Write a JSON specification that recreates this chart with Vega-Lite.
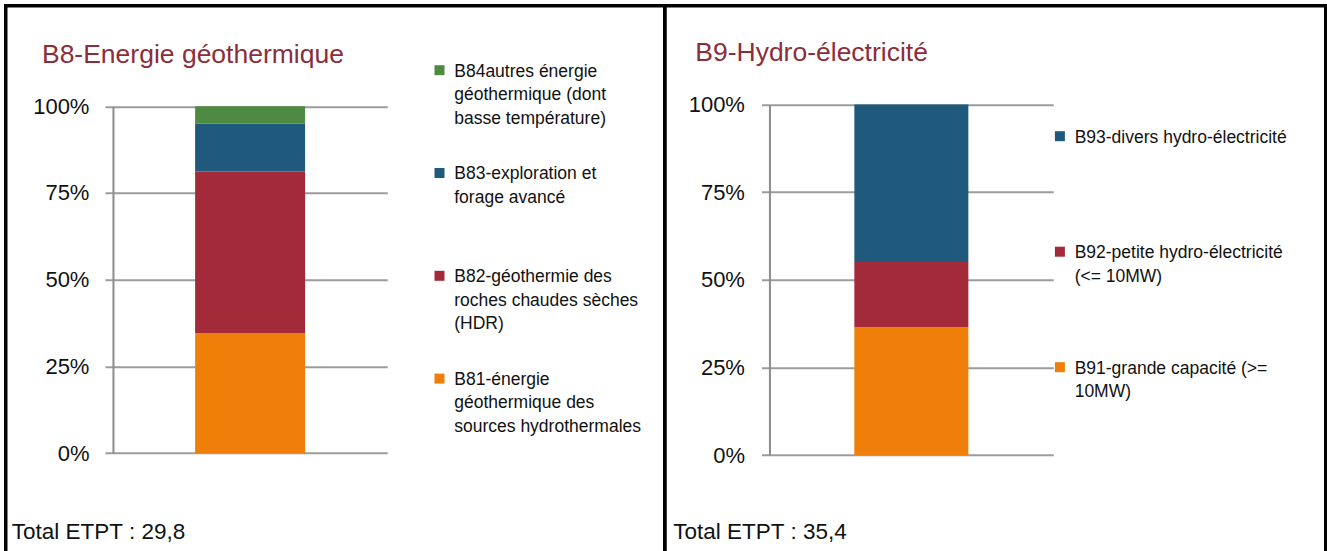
{
  "$schema": "https://vega.github.io/schema/vega-lite/v6.json",
  "padding": {"left": 3.75, "top": 3.75, "right": -1, "bottom": -5},
  "background": "white",
  "spacing": 0,
  "bounds": "flush",
  "resolve": {"scale": {"color": "independent"}, "legend": {"color": "independent"}},
  "config": {
    "view": {"stroke": "black", "strokeWidth": 3.5},
    "font": "Liberation Sans, Arial, sans-serif",
    "style": {"guide-label": {"lineHeight": 23.6}},
    "title": {"fontWeight": "normal", "color": "#8B2E3A", "fontSize": 26.5, "anchor": "start", "frame": "group", "baseline": "alphabetic"},
    "axisY": {
      "grid": true, "gridColor": "#9c9c9c", "gridWidth": 2,
      "domainColor": "#8c8c8c", "domainWidth": 2,
      "tickColor": "#9c9c9c", "tickWidth": 2, "tickSize": 8,
      "labelFontSize": 22, "labelColor": "#111111", "labelPadding": 16,
      "title": null
    },
    "axisX": {
      "labels": false, "ticks": false, "domain": false, "grid": false,
      "titleFontSize": 22.5, "titleFontWeight": "normal", "titleColor": "#111111",
      "titleAlign": "left", "titleBaseline": "alphabetic"
    },
    "legend": {
      "title": null, "orient": "none", "direction": "vertical", "columns": 1, "gridAlign": "all",
      "padding": 0, "symbolType": "M-1,-2.26H1V-0.26H-1Z", "symbolSize": 100, "symbolStrokeWidth": 0,
      "labelFontSize": 17.5, "labelBaseline": "alphabetic", "labelOffset": 6,
      "labelLimit": 400, "labelColor": "#111111"
    }
  },
  "hconcat": [
    {
      "width": 659,
      "height": 548,
      "data": {"values": [
        {"domaine": "B8", "categorie": "B81-énergie géothermique des sources hydrothermales", "etpt": 10.3},
        {"domaine": "B8", "categorie": "B82-géothermie des roches chaudes sèches (HDR)", "etpt": 13.9},
        {"domaine": "B8", "categorie": "B83-exploration et forage avancé", "etpt": 4.1},
        {"domaine": "B8", "categorie": "B84autres énergie géothermique (dont basse température)", "etpt": 1.5}
      ]},
      "title": {"text": "B8-Energie géothermique", "dx": 36.2, "offset": -62.6},
      "mark": {"type": "bar"},
      "encoding": {
        "x": {
          "field": "domaine", "type": "nominal",
          "scale": {"range": [107.2, 381.5], "paddingInner": 0, "paddingOuter": 0.747},
          "axis": {"title": "Total ETPT : 29,8", "titleX": 5.5, "titleY": -15.5}
        },
        "y": {
          "field": "etpt", "type": "quantitative", "stack": "normalize",
          "scale": {"range": [447.3, 100.5]},
          "axis": {"values": [0, 0.25, 0.5, 0.75, 1], "format": ".0%", "offset": -107.2}
        },
        "color": {
          "field": "categorie", "type": "nominal",
          "scale": {
            "domain": [
              "B84autres énergie géothermique (dont basse température)",
              "B83-exploration et forage avancé",
              "B82-géothermie des roches chaudes sèches (HDR)",
              "B81-énergie géothermique des sources hydrothermales"
            ],
            "range": ["#4F8A42", "#1F5A7D", "#A32A39", "#F07F09"]
          },
          "legend": {
            "legendX": 425, "legendY": 62, "rowPadding": 36.8,
            "labelExpr": "datum.label == 'B84autres énergie géothermique (dont basse température)' ? ['\u00a0B84autres énergie', 'géothermique (dont', 'basse température)'] : datum.label == 'B83-exploration et forage avancé' ? ['\u00a0B83-exploration et', 'forage avancé'] : datum.label == 'B82-géothermie des roches chaudes sèches (HDR)' ? ['\u00a0B82-géothermie des', 'roches chaudes sèches', '(HDR)'] : ['\u00a0B81-énergie', 'géothermique des', 'sources hydrothermales']"
          }
        },
        "order": {"field": "categorie", "sort": "ascending"}
      }
    },
    {
      "width": 661,
      "height": 548,
      "data": {"values": [
        {"domaine": "B9", "categorie": "B91-grande capacité (>= 10MW)", "etpt": 12.9},
        {"domaine": "B9", "categorie": "B92-petite hydro-électricité (<= 10MW)", "etpt": 6.6},
        {"domaine": "B9", "categorie": "B93-divers hydro-électricité", "etpt": 15.9}
      ]},
      "title": {"text": "B9-Hydro-électricité", "dx": 30.5, "offset": -60.7},
      "mark": {"type": "bar"},
      "encoding": {
        "x": {
          "field": "domaine", "type": "nominal",
          "scale": {"range": [104.7, 388.5], "paddingInner": 0, "paddingOuter": 0.7447},
          "axis": {"title": "Total ETPT : 35,4", "titleX": 8, "titleY": -15.5}
        },
        "y": {
          "field": "etpt", "type": "quantitative", "stack": "normalize",
          "scale": {"range": [449.3, 98.8]},
          "axis": {"values": [0, 0.25, 0.5, 0.75, 1], "format": ".0%", "offset": -104.7, "labelPadding": 17}
        },
        "color": {
          "field": "categorie", "type": "nominal",
          "scale": {
            "domain": [
              "B93-divers hydro-électricité",
              "B92-petite hydro-électricité (<= 10MW)",
              "B91-grande capacité (>= 10MW)"
            ],
            "range": ["#1F5A7D", "#A32A39", "#F07F09"]
          },
          "legend": {
            "legendX": 386.4, "legendY": 128, "rowPadding": 73.5,
            "labelExpr": "datum.label == 'B93-divers hydro-électricité' ? ['\u00a0B93-divers hydro-électricité'] : datum.label == 'B92-petite hydro-électricité (<= 10MW)' ? ['\u00a0B92-petite hydro-électricité', '(<= 10MW)'] : ['\u00a0B91-grande capacité (>=', '10MW)']"
          }
        },
        "order": {"field": "categorie", "sort": "ascending"}
      }
    }
  ]
}
